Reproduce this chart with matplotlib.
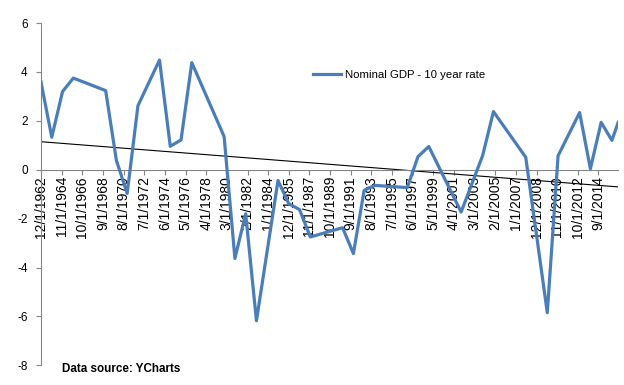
import datetime as dt
import numpy as np
import matplotlib
matplotlib.use('Agg')
import matplotlib.pyplot as plt
import matplotlib.dates as mdates

# observation dates (year, month) and Nominal GDP growth minus 10 year rate
obs = [(1962, 12), (1963, 12), (1964, 12), (1965, 12), (1968, 12), (1969, 12),
       (1970, 12), (1971, 12), (1973, 12), (1974, 12), (1975, 12), (1976, 12),
       (1979, 12), (1980, 12), (1981, 12), (1982, 12), (1984, 12), (1985, 12),
       (1986, 12), (1987, 12), (1990, 12), (1991, 12), (1992, 12), (1993, 12),
       (1996, 12), (1997, 12), (1998, 12), (2001, 12), (2003, 12), (2004, 12),
       (2007, 12), (2009, 12), (2010, 12), (2012, 12), (2013, 12), (2014, 12),
       (2015, 12), (2016, 7)]
spread = [3.59, 1.33, 3.20, 3.75, 3.24, 0.38,
          -0.97, 2.62, 4.49, 0.96, 1.22, 4.38,
          1.36, -3.63, -1.80, -6.18, -0.44, -1.39,
          -1.63, -2.75, -2.37, -3.43, -0.84, -0.64,
          -0.73, 0.54, 0.95, -1.73, 0.58, 2.38,
          0.51, -5.85, 0.57, 2.34, 0.04, 1.94,
          1.20, 1.94]
series_name = 'Nominal GDP - 10 year rate'
yticks = [-8, -6, -4, -2, 0, 2, 4, 6]

dates = [dt.date(y, m, 1) for y, m in obs]
x = mdates.date2num(dates)

# Excel date axis: a label every 23 months from the first date
tick_dates = []
k = obs[0][0] * 12 + obs[0][1] - 1
while k <= obs[-1][0] * 12 + obs[-1][1] - 1:
    tick_dates.append(dt.date(k // 12, k % 12 + 1, 1))
    k += 23
tick_labels = ['%d/%d/%d' % (d.month, d.day, d.year) for d in tick_dates]

plt.rcParams['font.family'] = ['Liberation Sans', 'DejaVu Sans']

fig = plt.figure(figsize=(6.24, 3.85), dpi=100)
ax = fig.add_axes([0.0657, 0.0512, 0.925, 0.8888])

ax.plot(x, spread, color='#4a7ebb', lw=2.3, label=series_name, zorder=3)

# linear trendline
coef = np.polyfit(x, spread, 1)
ax.plot([x[0], x[-1]], np.polyval(coef, [x[0], x[-1]]), color='black', lw=0.8, zorder=2)

ax.set_xlim(x[0], x[-1])
ax.set_ylim(-8, 6)
ax.set_yticks(yticks)
ax.set_yticklabels([str(v) for v in yticks], fontsize=8.5)
ax.set_xticks(mdates.date2num(tick_dates))
ax.set_xticklabels(tick_labels, fontsize=9)

for s in ['top', 'right']:
    ax.spines[s].set_visible(False)
ax.spines['bottom'].set_position(('data', 0))
for s in ['left', 'bottom']:
    ax.spines[s].set_color('#868686')
    ax.spines[s].set_linewidth(0.8)
ax.tick_params(axis='both', direction='out', length=3.5, width=0.8, color='#868686')
ax.tick_params(axis='x', pad=1, labelrotation=90)
ax.tick_params(axis='y', pad=6)

ax.legend(loc='center left', bbox_to_anchor=(0.485, 0.805), bbox_transform=fig.transFigure,
          frameon=False, fontsize=8.2, handlelength=2.5, handletextpad=0.3)

fig.text(0.099, 0.042, 'Data source: YCharts', fontsize=8.4, fontweight='bold', va='center')

fig.savefig('out.png', dpi=100)
